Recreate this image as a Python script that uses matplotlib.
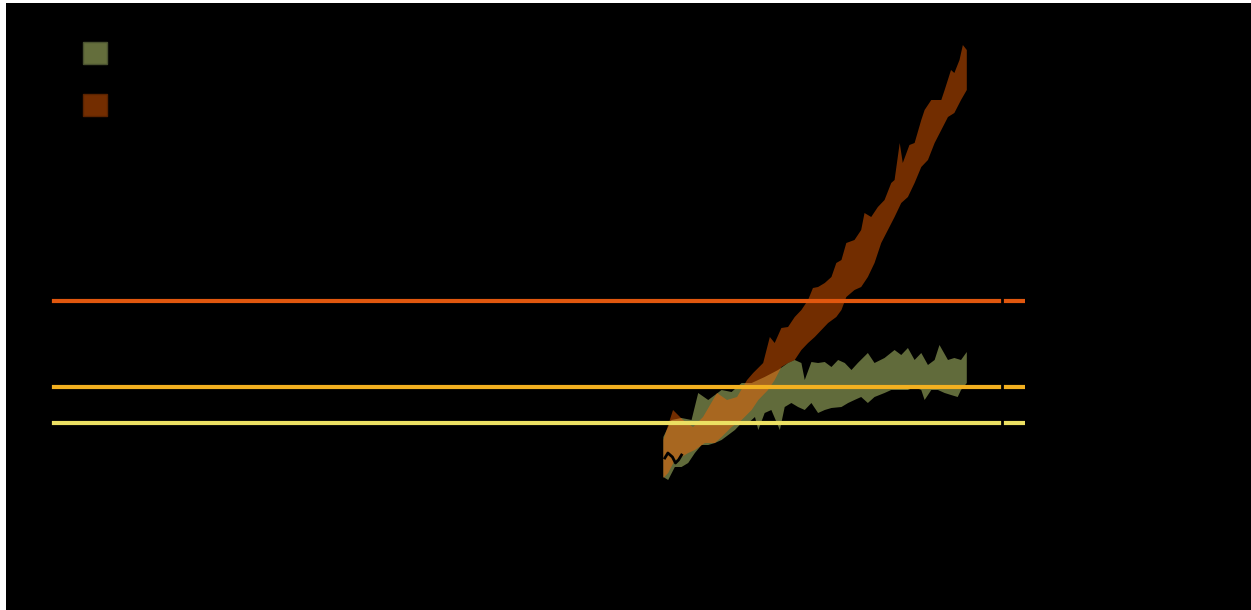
import matplotlib.pyplot as plt
import numpy as np
from matplotlib.patches import Patch, Rectangle

# years and values
low_up_x = [2000, 2002.7, 2006, 2009.3, 2011.5, 2014.8, 2017, 2019.2, 2022.5, 2025.8,
            2029.1, 2033.4, 2037.8, 2041.1, 2043.3, 2045.5, 2046.6, 2048.8, 2051, 2053.2,
            2055.4, 2057.6, 2059.8, 2062, 2064.1, 2067.4, 2069.6, 2072.9, 2076.2, 2078.4,
            2080.6, 2082.8, 2085, 2087.2, 2089.4, 2091, 2093.8, 2095.9, 2098.1, 2100]
low_up_y = [1.53, 1.70, 1.72, 1.70, 1.97, 1.90, 1.95, 2.00, 1.98, 2.07,
            2.07, 2.13, 2.20, 2.27, 2.30, 2.27, 2.10, 2.28, 2.27, 2.28,
            2.23, 2.30, 2.27, 2.20, 2.27, 2.37, 2.27, 2.32, 2.40, 2.35,
            2.42, 2.30, 2.37, 2.25, 2.30, 2.45, 2.30, 2.32, 2.30, 2.38]
low_lo_x = [2000, 2001.6, 2003.8, 2006, 2008.2, 2010.4, 2012.6, 2014.8, 2017, 2019.2,
            2021.4, 2023.6, 2025.8, 2028, 2030.2, 2031.3, 2033.4, 2035.6, 2038.4, 2040,
            2042.2, 2044.4, 2046.6, 2048.8, 2051, 2053.2, 2055.4, 2058.7, 2060.9, 2063,
            2065.2, 2067.4, 2069.6, 2072.9, 2075.1, 2077.3, 2080.6, 2082.8, 2085, 2086.1,
            2088.3, 2090.5, 2092.7, 2094.8, 2097, 2098.1, 2100]
low_lo_y = [1.13, 1.10, 1.23, 1.23, 1.27, 1.37, 1.45, 1.45, 1.47, 1.50,
            1.55, 1.60, 1.67, 1.67, 1.73, 1.60, 1.77, 1.80, 1.60, 1.83,
            1.87, 1.83, 1.80, 1.87, 1.77, 1.80, 1.82, 1.83, 1.87, 1.90,
            1.93, 1.87, 1.93, 1.97, 2.00, 2.00, 2.00, 2.03, 2.00, 1.90,
            2.00, 2.00, 1.97, 1.95, 1.93, 2.00, 2.07]

high_up_x = [2000, 2003.2, 2006.5, 2009.8, 2013.1, 2017.7, 2021, 2024.3, 2027.6, 2029.6,
             2032.9, 2035.1, 2036.7, 2038.9, 2041.1, 2043.3, 2045.5, 2047.7, 2049.3,
             2051, 2053.2, 2055.4, 2057, 2058.7, 2060.3, 2063, 2065.2, 2066.3, 2068.5,
             2070.7, 2072.9, 2075.1, 2076.2, 2077.9, 2078.9, 2081.1, 2082.8, 2085, 2086.1,
             2088.3, 2091.6, 2092.7, 2094.8, 2095.9, 2097.6, 2098.7, 2100]
high_up_y = [1.50, 1.80, 1.70, 1.63, 1.73, 1.97, 1.90, 1.93, 2.10, 2.17,
             2.27, 2.53, 2.47, 2.62, 2.63, 2.73, 2.80, 2.90, 3.02,
             3.03, 3.07, 3.13, 3.27, 3.30, 3.47, 3.50, 3.60, 3.77, 3.73,
             3.83, 3.90, 4.07, 4.10, 4.47, 4.27, 4.45, 4.47, 4.70, 4.80,
             4.90, 4.90, 5.00, 5.20, 5.17, 5.30, 5.45, 5.40]
high_lo_x = [2000, 2001.6, 2003.8, 2006, 2008.2, 2010.4, 2013.7, 2017, 2019.2, 2022.5,
             2025.8, 2029.1, 2031.3, 2034.5, 2036.7, 2038.9, 2041.1, 2043.3, 2045.5, 2047.7,
             2049.9, 2052.1, 2054.3, 2057, 2058.7, 2060.3, 2063, 2065.2, 2067.4, 2069.6,
             2071.8, 2074, 2076.2, 2078.4, 2080.6, 2082.8, 2085, 2087.2, 2089.4, 2091.6,
             2093.8, 2095.9, 2098.1, 2100]
high_lo_y = [1.12, 1.17, 1.30, 1.33, 1.37, 1.40, 1.47, 1.47, 1.53, 1.63,
             1.70, 1.80, 1.90, 2.00, 2.10, 2.23, 2.27, 2.30, 2.40, 2.47,
             2.53, 2.60, 2.67, 2.73, 2.80, 2.93, 3.00, 3.03, 3.13, 3.27,
             3.47, 3.60, 3.73, 3.87, 3.93, 4.07, 4.23, 4.30, 4.47, 4.60,
             4.73, 4.77, 4.90, 5.00]

obs_x = [2000.5, 2001.5, 2003, 2004, 2005, 2006]
obs_y = [1.32, 1.37, 1.33, 1.27, 1.30, 1.35]

levels = [2.89, 2.03, 1.67]
level_colors = ['#e0570e', '#f2b020', '#ece063']
labels = ['Low emissions', 'High emissions']

fig = plt.figure(figsize=(12.51, 6.10), dpi=100)
fig.patch.set_facecolor('white')
# black page, thin white strip on top and left
fig.patches.append(Rectangle((6/1251, 0), 1 - 6/1251, 1 - 3/610, transform=fig.transFigure,
                             facecolor='black', edgecolor='none', zorder=-5))

ax = fig.add_axes([50/1251, 50/610, 952/1251, 540/610])
ax.set_facecolor('black')
ax.set_xlim(1797.9, 2111.6)
ax.set_ylim(0.3, 5.7)

# bands: polygon = upper edge then lower edge backwards
ax.fill(low_up_x + low_lo_x[::-1], low_up_y + low_lo_y[::-1],
        color='#616b3b', linewidth=0, zorder=1)
ax.fill(high_up_x + high_lo_x[::-1], high_up_y + high_lo_y[::-1],
        color='#ff6400', alpha=0.45, linewidth=0, zorder=1.1)

ax.plot(obs_x, obs_y, color='black', lw=2, zorder=3)

for v, c in zip(levels, level_colors):
    ax.plot([1797.9, 2119.2], [v, v], color=c, lw=3, clip_on=False, zorder=2,
            solid_capstyle='butt')

for s in ax.spines.values():
    s.set_color('black')
    s.set_linewidth(2)
ax.tick_params(colors='black', labelcolor='black')

handles = [Patch(facecolor='#646e3c', edgecolor='#4a5230'),
           Patch(facecolor='#732d00', edgecolor='#5a2300')]
leg = ax.legend(handles, labels, loc='upper left', bbox_to_anchor=(68/1251, 1 - 27/610),
                bbox_transform=fig.transFigure, frameon=False, fontsize=18,
                handlelength=0.96, handleheight=0.96, labelspacing=1.1, borderpad=0.1)
for t in leg.get_texts():
    t.set_color('black')

plt.savefig('out.png', dpi=100, facecolor=fig.get_facecolor())
